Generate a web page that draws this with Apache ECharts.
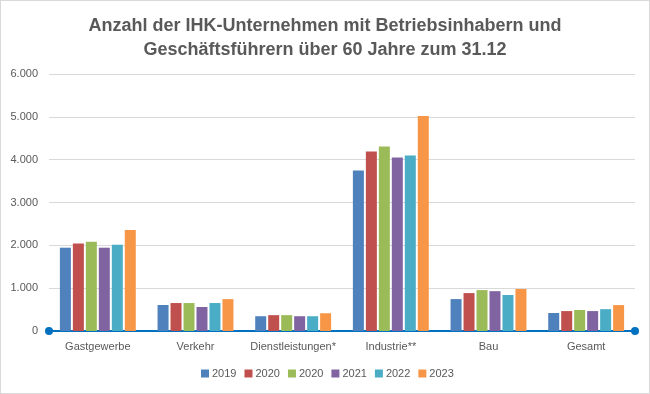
<!DOCTYPE html>
<html><head><meta charset="utf-8">
<script src="https://cdn.jsdelivr.net/npm/echarts@6/dist/echarts.min.js"></script>
<style>html,body{margin:0;padding:0;background:#fff}#c{width:648px;height:392px;border:1px solid #d9d9d9}</style>
</head><body><div id="c"></div>
<script>
const categories = ['Gastgewerbe','Verkehr','Dienstleistungen*','Industrie**','Bau','Gesamt'];
const seriesNames = ['2019','2020','2020 ','2021','2022','2023'];
const s2019 = [1945, 607, 345, 3750, 745, 420];
const s2020a = [2040, 653, 370, 4190, 885, 465];
const s2020b = [2085, 653, 370, 4305, 955, 490];
const s2021 = [1945, 560, 345, 4050, 930, 465];
const s2022 = [2015, 653, 345, 4095, 840, 510];
const s2023 = [2360, 745, 415, 5020, 980, 605];
const yTicks = [0, 1000, 2000, 3000, 4000, 5000, 6000];
const colors = ['#4F81BD','#C0504D','#9BBB59','#8064A2','#4BACC6','#F79646'];
const allSeries = [s2019, s2020a, s2020b, s2021, s2022, s2023];
const font = 'Liberation Sans, Noto Sans, sans-serif';
function fmt(v){return v===0?'0':v.toString().replace(/\B(?=(\d{3})+(?!\d))/g,'.');}
const chart = echarts.init(document.getElementById('c'));
chart.setOption({
  animation:false,
  color: colors,
  title:{text:'Anzahl der IHK-Unternehmen mit Betriebsinhabern und\nGeschäftsführern über 60 Jahre zum 31.12',left:'center',top:8,
    textStyle:{fontFamily:font,fontSize:18,fontWeight:'bold',color:'#595959',lineHeight:24}},
  legend:{top:362,left:195,itemWidth:8,itemHeight:8,itemGap:8,icon:'rect',
    textStyle:{fontFamily:font,fontSize:11,color:'#595959',padding:[0,0,0,-2]},
    formatter:function(n){return n.trim();},
    data:seriesNames},
  grid:{left:48,right:14,top:73,bottom:62},
  xAxis:{type:'category',data:categories,
    axisLine:{lineStyle:{color:'#0070C0',width:2},symbol:['circle','circle'],symbolSize:[8,8]},
    axisTick:{show:false},
    axisLabel:{fontFamily:font,fontSize:11,color:'#595959',margin:10,interval:0}},
  yAxis:{type:'value',min:yTicks[0],max:yTicks[yTicks.length-1],interval:1000,
    axisLine:{show:false},axisTick:{show:false},
    splitLine:{lineStyle:{color:'#d9d9d9',width:1}},
    axisLabel:{fontFamily:font,fontSize:11,color:'#595959',margin:11,formatter:fmt}},
  series: allSeries.map((d,i)=>({name:seriesNames[i],type:'bar',data:d,barWidth:11,barGap:'18%'}))
});
</script></body></html>
